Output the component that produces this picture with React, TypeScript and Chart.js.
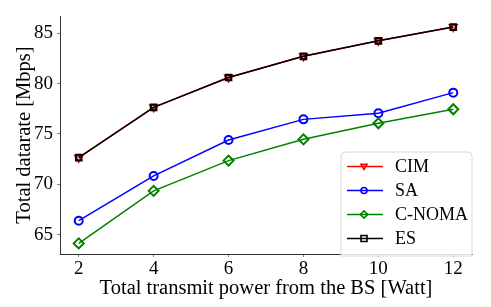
import React, { useEffect, useRef } from "react";
import { Chart, registerables } from "chart.js";

Chart.register(...registerables);

const powers = [2, 4, 6, 8, 10, 12];
const cimRates = [72.65, 77.64, 80.6, 82.7, 84.24, 85.6];
const saRates = [66.4, 70.84, 74.4, 76.45, 77.05, 79.1];
const cnomaRates = [64.15, 69.36, 72.36, 74.47, 76.06, 77.45];
const esRates = [72.65, 77.64, 80.6, 82.7, 84.24, 85.6];
const xTicks = [2, 4, 6, 8, 10, 12];
const yTicks = [65, 70, 75, 80, 85];
const seriesNames = ["CIM", "SA", "C-NOMA", "ES"];
const seriesColors = ["#ff0000", "#0000ff", "#008000", "#000000"];
const seriesMarkers = ["tri", "circle", "diamond", "square"];

const FONT = "'Liberation Serif', 'Times New Roman', serif";

function drawMarker(ctx: CanvasRenderingContext2D, kind: string, x: number, y: number, r: number) {
  ctx.beginPath();
  if (kind === "circle") {
    ctx.arc(x, y, r, 0, Math.PI * 2);
  } else if (kind === "square") {
    ctx.rect(x - r, y - r, 2 * r, 2 * r);
  } else if (kind === "diamond") {
    ctx.moveTo(x, y - r * 1.2);
    ctx.lineTo(x + r * 1.2, y);
    ctx.lineTo(x, y + r * 1.2);
    ctx.lineTo(x - r * 1.2, y);
    ctx.closePath();
  } else {
    ctx.moveTo(x - r, y - r * 0.7);
    ctx.lineTo(x + r, y - r * 0.7);
    ctx.lineTo(x, y + r * 1.0);
    ctx.closePath();
  }
  ctx.stroke();
}

const legendPlugin = {
  id: "customLegend",
  afterDraw(chart: any) {
    const ctx = chart.ctx as CanvasRenderingContext2D;
    const area = chart.chartArea;
    const right = area.right;
    const left = right - 131;
    const top = area.bottom - 102;
    const bottom = area.bottom + 2;
    ctx.save();
    ctx.fillStyle = "rgba(255,255,255,0.85)";
    ctx.strokeStyle = "#d8d8d8";
    ctx.lineWidth = 1;
    const rad = 4;
    ctx.beginPath();
    ctx.moveTo(left + rad, top);
    ctx.lineTo(right - rad, top);
    ctx.quadraticCurveTo(right, top, right, top + rad);
    ctx.lineTo(right, bottom);
    ctx.lineTo(left, bottom);
    ctx.lineTo(left, top + rad);
    ctx.quadraticCurveTo(left, top, left + rad, top);
    ctx.closePath();
    ctx.fill();
    ctx.stroke();
    const rowY = [166.5, 190.5, 214.5, 238.5].map((v) => v - 254 + area.bottom);
    seriesNames.forEach((name, i) => {
      const y = rowY[i];
      ctx.strokeStyle = seriesColors[i];
      ctx.lineWidth = 1.5;
      ctx.beginPath();
      ctx.moveTo(left + 6, y);
      ctx.lineTo(left + 42, y);
      ctx.stroke();
      ctx.lineWidth = 1.6;
      drawMarker(ctx, seriesMarkers[i], left + 23, y, 3);
      ctx.fillStyle = "#000";
      ctx.font = `18px ${FONT}`;
      ctx.textBaseline = "middle";
      ctx.textAlign = "left";
      ctx.fillText(name, left + 54, y + 1);
    });
    ctx.restore();
  },
};

function makeDataset(i: number, data: number[]) {
  const kind = seriesMarkers[i];
  const style: any =
    kind === "circle" ? "circle" : kind === "square" ? "rect" : kind === "diamond" ? "rectRot" : "triangle";
  return {
    label: seriesNames[i],
    data: powers.map((p, j) => ({ x: p, y: data[j] })),
    borderColor: seriesColors[i],
    backgroundColor: "rgba(0,0,0,0)",
    borderWidth: 1.5,
    pointStyle: style,
    pointRotation: kind === "tri" ? 180 : 0,
    pointRadius: kind === "diamond" ? 5 : 4,
    pointBorderWidth: 2,
    pointBorderColor: seriesColors[i],
    pointBackgroundColor: "rgba(0,0,0,0)",
    tension: 0,
    showLine: true,
    order: 4 - i,
  };
}

export default function App() {
  const ref = useRef<HTMLCanvasElement>(null);
  useEffect(() => {
    document.body.style.margin = "0";
    const chart = new Chart(ref.current as HTMLCanvasElement, {
      type: "scatter",
      data: {
        datasets: [
          makeDataset(0, cimRates),
          makeDataset(1, saRates),
          makeDataset(2, cnomaRates),
          makeDataset(3, esRates),
        ] as any,
      },
      options: {
        animation: false,
        responsive: true,
        maintainAspectRatio: false,
        layout: { padding: { top: 16, right: 19, left: 0, bottom: 0 } },
        plugins: { legend: { display: false }, tooltip: { enabled: false } },
        scales: {
          x: {
            type: "linear",
            min: 1.5,
            max: 12.5,
            afterBuildTicks: (s: any) => {
              s.ticks = xTicks.map((v) => ({ value: v }));
            },
            afterFit: (s: any) => {
              s.height = 53;
            },
            grid: { display: true, drawOnChartArea: false, tickLength: 3, color: "#666", lineWidth: 0.8 },
            border: { color: "#333", width: 1 },
            ticks: { color: "#000", font: { family: FONT, size: 19 }, padding: 1, maxRotation: 0 },
            title: {
              display: true,
              text: "Total transmit power from the BS [Watt]",
              color: "#000",
              font: { family: FONT, size: 20.5 },
              padding: { top: 0, bottom: 6 },
            },
          },
          y: {
            type: "linear",
            min: 63.1,
            max: 86.7,
            afterBuildTicks: (s: any) => {
              s.ticks = yTicks.map((v) => ({ value: v }));
            },
            afterFit: (s: any) => {
              s.width = 60;
            },
            grid: { display: true, drawOnChartArea: false, tickLength: 3, color: "#666", lineWidth: 0.8 },
            border: { color: "#333", width: 1 },
            ticks: { color: "#000", font: { family: FONT, size: 19 }, padding: 4 },
            title: {
              display: true,
              text: "Total datarate [Mbps]",
              color: "#000",
              font: { family: FONT, size: 20.5 },
              padding: { top: 12, bottom: 0 },
            },
          },
        },
      },
      plugins: [legendPlugin],
    });
    return () => chart.destroy();
  }, []);
  return (
    <div style={{ position: "fixed", left: 0, top: 0, width: 491, height: 307 }}>
      <canvas ref={ref} />
    </div>
  );
}
